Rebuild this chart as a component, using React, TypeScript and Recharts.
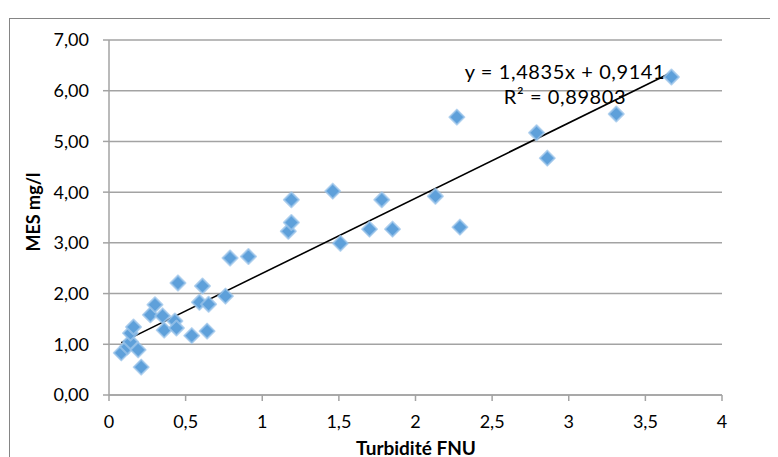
import React from "react";
import {
  ScatterChart,
  Scatter,
  XAxis,
  YAxis,
  CartesianGrid,
  ReferenceLine,
} from "recharts";

const turbidity = [
  0.08, 0.12, 0.14, 0.14, 0.16, 0.19, 0.21, 0.27, 0.3, 0.35, 0.36, 0.43, 0.44,
  0.45, 0.54, 0.59, 0.61, 0.64, 0.65, 0.76, 0.79, 0.91, 1.17, 1.19, 1.19, 1.46,
  1.51, 1.7, 1.78, 1.85, 2.13, 2.27, 2.29, 2.79, 2.86, 3.31, 3.67,
];
const mes = [
  0.83, 0.95, 1.05, 1.22, 1.34, 0.89, 0.55, 1.58, 1.78, 1.56, 1.28, 1.46, 1.32,
  2.21, 1.17, 1.83, 2.15, 1.26, 1.79, 1.95, 2.7, 2.73, 3.23, 3.4, 3.85, 4.02,
  2.99, 3.27, 3.85, 3.27, 3.92, 5.48, 3.31, 5.17, 4.67, 5.54, 6.27,
];
const xTicks = [0, 0.5, 1, 1.5, 2, 2.5, 3, 3.5, 4];
const yTicks = [0, 1, 2, 3, 4, 5, 6, 7];
const slope = 1.4835;
const intercept = 0.9141;
const rSquared = "0,89803";
const equationText = "y = 1,4835x + 0,9141";

const points = turbidity.map((x, i) => ({ x, y: mes[i] }));
const xMin = Math.min(...turbidity);
const xMax = Math.max(...turbidity);
const trendSegment = [
  { x: xMin, y: slope * xMin + intercept },
  { x: xMax, y: slope * xMax + intercept },
];

const FONT = "Lato, 'Noto Sans', sans-serif";
const GRID = "#A3A3A3";
const fmtX = (v: number) => String(v).replace(".", ",");
const fmtY = (v: number) => v.toFixed(2).replace(".", ",");

const Diamond = (props: any) => {
  const { cx, cy } = props;
  if (cx == null || cy == null) return <g />;
  const r = 7.5;
  const pts = `${cx},${cy - r} ${cx + r},${cy} ${cx},${cy + r} ${cx - r},${cy}`;
  return (
    <polygon
      points={pts}
      fill="#5EA0DA"
      stroke="#9CC4EA"
      strokeOpacity={0.75}
      strokeWidth={2}
      strokeLinejoin="round"
    />
  );
};

export default function App() {
  return (
    <div
      style={{
        position: "relative",
        width: 770,
        height: 449,
        overflow: "hidden",
        fontFamily: FONT,
      }}
    >
      <div
        style={{
          position: "absolute",
          left: 1,
          top: 10,
          width: 820,
          height: 520,
          border: "1px solid #858585",
        }}
      />
      <ScatterChart
        width={770}
        height={449}
        margin={{ top: 32, right: 56, bottom: 22, left: 41 }}
        style={{ position: "absolute", left: 0, top: 0 }}
      >
        <CartesianGrid vertical={false} stroke={GRID} strokeWidth={1.5} />
        <XAxis
          type="number"
          dataKey="x"
          domain={[0, 4]}
          ticks={xTicks}
          tickFormatter={fmtX}
          height={40}
          axisLine={{ stroke: GRID, strokeWidth: 1.5 }}
          tickLine={{ stroke: GRID, strokeWidth: 1.5 }}
          tickSize={6}
          tickMargin={14}
          tick={{ fill: "#000", fontSize: 18, fontFamily: FONT }}
          allowDataOverflow
        />
        <YAxis
          type="number"
          dataKey="y"
          domain={[0, 7]}
          ticks={yTicks}
          tickFormatter={fmtY}
          width={60}
          axisLine={{ stroke: GRID, strokeWidth: 1.5 }}
          tickLine={{ stroke: GRID, strokeWidth: 1.5 }}
          tickSize={6}
          tickMargin={14}
          tick={{ fill: "#000", fontSize: 18, fontFamily: FONT }}
          allowDataOverflow
        />
        <Scatter
          data={points}
          shape={Diamond}
          isAnimationActive={false}
        />
        <ReferenceLine
          segment={trendSegment}
          stroke="#000"
          strokeWidth={1.6}
          ifOverflow="visible"
        />
      </ScatterChart>
      <div
        style={{
          position: "absolute",
          left: 408,
          top: 439,
          transform: "translate(-50%, -50%)",
          fontWeight: 700,
          fontSize: 19,
          whiteSpace: "nowrap",
        }}
      >
        Turbidité FNU
      </div>
      <div
        style={{
          position: "absolute",
          left: 25,
          top: 204,
          transform: "translate(-50%, -50%) rotate(-90deg)",
          fontWeight: 700,
          fontSize: 18,
          whiteSpace: "nowrap",
        }}
      >
        MES mg/l
      </div>
      <div
        style={{
          position: "absolute",
          left: 557,
          top: 76,
          transform: "translate(-50%, -50%)",
          fontSize: 20,
          letterSpacing: 0.6,
          whiteSpace: "nowrap",
          lineHeight: "25px",
          textAlign: "center",
        }}
      >
        {equationText}
        <br />
        R² = {rSquared}
      </div>
    </div>
  );
}
